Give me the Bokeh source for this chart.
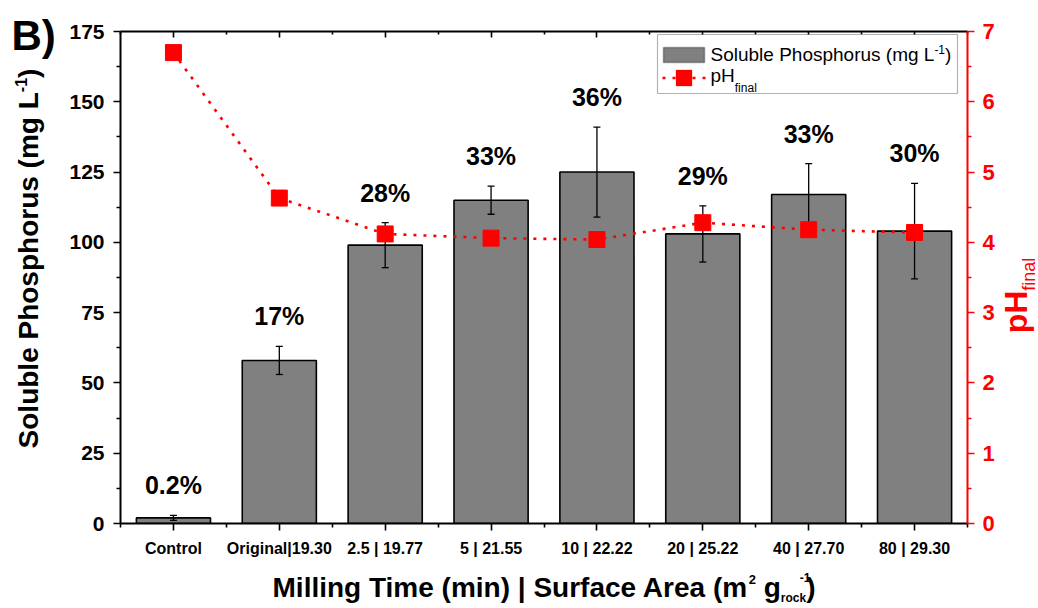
from math import pi

from bokeh.core.properties import value
from bokeh.embed import file_html
from bokeh.models import (Arrow, BoxAnnotation, ColumnDataSource, FixedTicker,
                          Label, LinearAxis, Range1d)
from bokeh.plotting import figure
from bokeh.resources import INLINE

# ---------------------------------------------------------------- data
categories = ["Control", "Original|19.30", "2.5 | 19.77", "5 | 21.55",
              "10 | 22.22", "20 | 25.22", "40 | 27.70", "80 | 29.30"]
soluble_p = [2.0, 58, 99, 115, 125, 103, 117, 104]          # mg L-1
soluble_p_err = [0.9, 5, 8, 5, 16, 10, 11, 17]
ph_final = [6.70, 4.63, 4.12, 4.06, 4.04, 4.28, 4.18, 4.14]
p_solubilized = ["0.2%", "17%", "28%", "33%", "36%", "29%", "33%", "30%"]
p_ticks = [0, 25, 50, 75, 100, 125, 150, 175]
ph_ticks = [0, 1, 2, 3, 4, 5, 6, 7]

# ---------------------------------------------------------------- layout
W, H = 1038, 608
B_LEFT, B_RIGHT, B_TOP, B_BOTTOM = 120, 71, 31, 85
FONT = "Liberation Sans"
RED = "#ff0000"
BASE_SHIFT = 0.36   # drawn alphabetic baseline sits this many em below anchor

xs = list(range(1, len(categories) + 1))
src = ColumnDataSource(dict(
    x=xs,
    p=soluble_p,
    upper=[v + e for v, e in zip(soluble_p, soluble_p_err)],
    lower=[v - e for v, e in zip(soluble_p, soluble_p_err)],
    ph=ph_final,
    lab=p_solubilized,
))

x_range = Range1d(0.5, len(categories) + 0.5)
y_range = Range1d(p_ticks[0], p_ticks[-1])
p = figure(width=W, height=H, output_backend="svg", toolbar_location=None,
           x_range=x_range, y_range=y_range,
           x_axis_location=None, y_axis_location=None,
           min_border_left=B_LEFT, min_border_right=B_RIGHT,
           min_border_top=B_TOP, min_border_bottom=B_BOTTOM)
p.extra_y_ranges = {"ph": Range1d(ph_ticks[0], ph_ticks[-1])}
p.grid.visible = False
p.outline_line_color = None
p.background_fill_color = "white"
p.border_fill_color = "white"

# bars, error bars, percentage labels
p.vbar(x="x", top="p", bottom=0, width=0.7, source=src,
       fill_color="#808080", line_color="black", line_width=1.6)
p.segment(x0="x", y0="lower", x1="x", y1="upper", source=src,
          line_color="black", line_width=1.3)
p.scatter(x="x", y="upper", source=src, marker="dash", size=7,
          line_color="black", line_width=1.3)
p.scatter(x="x", y="lower", source=src, marker="dash", size=7,
          line_color="black", line_width=1.3)
p.text(x="x", y="upper", text="lab", source=src, text_align="center",
       text_baseline="alphabetic", y_offset=-30, text_color="black",
       text_font=value(FONT), text_font_style="bold", text_font_size="25px")

# final pH on the secondary axis
p.line(x="x", y="ph", source=src, y_range_name="ph", line_color=RED,
       line_width=2.6, line_dash="3 7")
p.scatter(x="x", y="ph", source=src, y_range_name="ph", marker="square",
          size=16, fill_color=RED, line_color=RED)

# ---------------------------------------------------------------- axes
x_minor = [x - 0.5 for x in xs] + [xs[-1] + 0.5]


def style_axis(ax, color="black", label_size="20px", standoff=8,
               tick_out=7, minor_out=4, tick_in=0, minor_in=0):
    ax.axis_line_color = color
    ax.axis_line_width = 2
    ax.major_tick_line_color = color
    ax.minor_tick_line_color = color
    ax.major_tick_line_width = 1.6
    ax.minor_tick_line_width = 1.6
    ax.major_tick_out = tick_out
    ax.major_tick_in = tick_in
    ax.minor_tick_out = minor_out
    ax.minor_tick_in = minor_in
    ax.major_label_text_color = color
    ax.major_label_text_font = FONT
    ax.major_label_text_font_style = "bold"
    ax.major_label_text_font_size = label_size
    ax.major_label_standoff = standoff


bottom = LinearAxis(ticker=FixedTicker(ticks=xs, minor_ticks=x_minor),
                    major_label_overrides={x: c for x, c in zip(xs, categories)})
style_axis(bottom, label_size="16px", standoff=9)
p.add_layout(bottom, "below")

top = LinearAxis(ticker=FixedTicker(ticks=xs, minor_ticks=x_minor),
                 major_label_overrides={x: "" for x in xs})
style_axis(top, tick_out=0, minor_out=0, tick_in=6, minor_in=3)
p.add_layout(top, "above")

p_minor = [t + 12.5 for t in p_ticks[:-1]]
left = LinearAxis(ticker=FixedTicker(ticks=p_ticks, minor_ticks=p_minor))
style_axis(left, label_size="21px", standoff=9)
p.add_layout(left, "left")

ph_minor = [t + 0.5 for t in ph_ticks[:-1]]
right = LinearAxis(y_range_name="ph",
                   ticker=FixedTicker(ticks=ph_ticks, minor_ticks=ph_minor))
style_axis(right, color=RED, label_size="22px", standoff=8)
p.add_layout(right, "right")

# ---------------------------------------------------------------- rich texts
BOLD_W = {" ": 278, "(": 333, ")": 333, "|": 280, "-": 333, ".": 278,
          "A": 722, "B": 722, "C": 722, "H": 722, "L": 611, "M": 833,
          "P": 667, "S": 667, "T": 611, "a": 556, "b": 611, "c": 556,
          "e": 556, "f": 333, "g": 611, "h": 611, "i": 278, "k": 556,
          "l": 278, "m": 889, "n": 611, "o": 611, "p": 611, "r": 389,
          "s": 556, "t": 333, "u": 611}
REG_W = {" ": 278, "(": 333, ")": 333, "-": 333, "H": 722, "L": 556,
         "P": 667, "S": 667, "a": 556, "b": 556, "e": 556, "f": 278,
         "g": 556, "h": 556, "i": 222, "l": 222, "m": 833, "n": 556,
         "o": 556, "p": 556, "r": 333, "s": 500, "u": 556}


def text_width(s, size, bold):
    table = BOLD_W if bold else REG_W
    return sum(table.get(ch, 556) for ch in s) * size / 1000.0


FRAME_BOTTOM = H - B_BOTTOM


def put(txt, cx, cy, size, bold=True, color="black", angle=0.0):
    """Text run whose baseline starts at canvas pixel (cx, cy); anchored at
    the frame's lower-left corner and shifted by pixel offsets so it can sit
    in the margins around the frame."""
    lead = len(txt) - len(txt.lstrip(" "))
    adv = text_width(txt[:lead], size, bold)
    txt = txt.strip(" ")
    if angle:
        cx, cy = cx - BASE_SHIFT * size, cy - adv
    else:
        cx, cy = cx + adv, cy - BASE_SHIFT * size
    p.text(x=[x_range.start], y=[y_range.start], text=[txt],
           x_offset=cx - B_LEFT, y_offset=cy - FRAME_BOTTOM, angle=angle,
           text_align="left", text_baseline="alphabetic", text_color=color,
           text_font=value(FONT), text_font_size=f"{size}px",
           text_font_style="bold" if bold else "normal", level="overlay")


def run_horizontal(pieces, cx_center, baseline, color="black"):
    """pieces: (text, size, baseline shift, bold, advances)."""
    total = sum(text_width(t, s, b) for t, s, _, b, a in pieces if a)
    x = cx_center - total / 2
    for t, s, shift, b, a in pieces:
        w = text_width(t, s, b)
        if a:
            put(t, x, baseline + shift, s, b, color)
            x += w
        else:
            put(t, x - 0.6 * w, baseline + shift, s, b, color)


def run_vertical(pieces, cy_center, baseline_x, color="black"):
    total = sum(text_width(t, s, b) for t, s, _, b in pieces)
    y = cy_center + total / 2
    for t, s, shift, b in pieces:
        put(t, baseline_x + shift, y, s, b, color, angle=pi / 2)
        y -= text_width(t, s, b)


# x-axis title
run_horizontal([("Milling Time (min) | Surface Area (m", 28, 0, True, True),
                ("2", 13, -13, True, True),
                (" g", 28, 0, True, True),
                ("rock", 12, 5, True, True),
                ("-1", 12, -16, True, False),
                (")", 28, 0, True, True)],
               (B_LEFT + W - B_RIGHT) / 2, 597)

# left y-axis title
run_vertical([("Soluble Phosphorus (mg L", 28, 0, True),
              ("-1", 16, -12, True),
              (")", 28, 0, True)], 258, 38)

# right y-axis title
run_vertical([("pH", 32, 0, True), ("final", 18, 8, False)], 295, 1027,
             color=RED)

# panel letter
put("B)", 11, 50, 42)


# ---------------------------------------------------------------- legend
def box(l, r, t, b, **kw):
    p.add_layout(BoxAnnotation(left=l - B_LEFT, right=r - B_LEFT,
                               top=FRAME_BOTTOM - t, bottom=FRAME_BOTTOM - b,
                               left_units="screen", right_units="screen",
                               top_units="screen", bottom_units="screen",
                               **kw))


def legend_text(txt, cx, cy, size):
    p.add_layout(Label(x=cx - B_LEFT, y=FRAME_BOTTOM - (cy - BASE_SHIFT * size),
                       x_units="screen", y_units="screen", text=txt,
                       text_align="left", text_baseline="alphabetic",
                       text_color="black", text_font=FONT,
                       text_font_size=f"{size}px"))


box(657, 957, 34, 93, fill_color="white", fill_alpha=1.0,
    line_color="black", line_width=1.2)
box(663, 704, 47, 62, fill_color="#808080", fill_alpha=1.0,
    line_color="black", line_width=1.6)
p.add_layout(Arrow(start=None, end=None,
                   x_start=662 - B_LEFT, x_end=705 - B_LEFT,
                   y_start=FRAME_BOTTOM - 77.5, y_end=FRAME_BOTTOM - 77.5,
                   start_units="screen", end_units="screen",
                   line_color=RED, line_width=2.6, line_dash="3 7"))
box(675.5, 691.5, 69.5, 85.5, fill_color=RED, fill_alpha=1.0,
    line_color=RED, line_width=1)

x_txt = 710
legend_text("Soluble Phosphorus (mg L", x_txt, 61, 19)
x_sup = x_txt + text_width("Soluble Phosphorus (mg L", 19, False)
legend_text("-1", x_sup, 53, 12)
legend_text(")", x_sup + text_width("-1", 12, False), 61, 19)
legend_text("pH", x_txt, 82, 19)
legend_text("final", x_txt + text_width("pH", 19, False), 91.5, 12)

open("out.html", "w").write(file_html(p, INLINE))
